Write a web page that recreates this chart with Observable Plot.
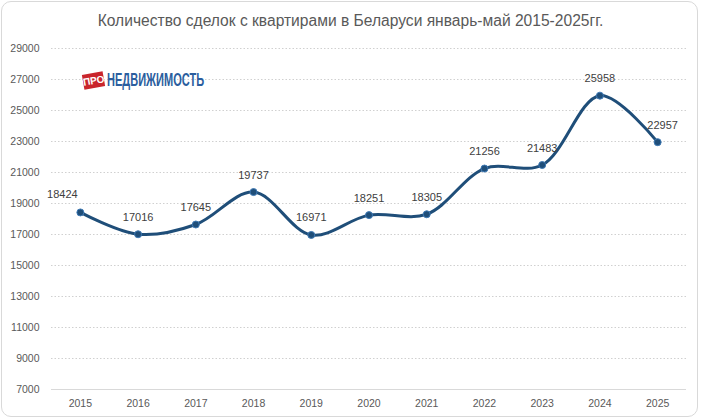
<!DOCTYPE html>
<html><head><meta charset="utf-8">
<script src="https://cdn.jsdelivr.net/npm/d3@7"></script>
<script src="https://cdn.jsdelivr.net/npm/@observablehq/plot@0.6"></script>
<style>
body{margin:0;background:#fff;}
#wrap{position:relative;width:701px;height:420px;overflow:hidden;font-family:"Liberation Sans",Arial,sans-serif;}
#frame{position:absolute;left:1px;top:1px;width:697px;height:416px;border:1px solid #d9d9d9;border-radius:10px;box-sizing:border-box;pointer-events:none;}
#title{position:absolute;left:0;width:701px;top:12px;text-align:center;font-size:15.6px;color:#595959;}
#logo{position:absolute;left:82px;top:70px;height:22px;}
#logo .pro{position:absolute;left:1px;top:3px;width:21px;height:15px;background:#c9252c;color:#fff;font:bold 10px "Liberation Sans",sans-serif;line-height:15px;text-align:center;transform:rotate(-10deg);}
#logo .nd{position:absolute;left:25px;top:0px;font:bold 17.5px "Liberation Sans",sans-serif;color:#2b5e9e;white-space:nowrap;transform:scaleX(0.63);transform-origin:left;}
#chart{position:absolute;left:0;top:0;}
</style></head>
<body>
<div id="wrap">
  <div id="chart"></div>
  <div id="title">Количество сделок с квартирами в Беларуси январь-май 2015-2025гг.</div>
  <div id="logo"><div class="pro">ПРО</div><div class="nd">НЕДВИЖИМОСТЬ</div></div>
  <div id="frame"></div>
</div>
<script>
const years = ["2015","2016","2017","2018","2019","2020","2021","2022","2023","2024","2025"];
const deals = [18424,17016,17645,19737,16971,18251,18305,21256,21483,25958,22957];
const yTicks = [7000,9000,11000,13000,15000,17000,19000,21000,23000,25000,27000,29000];

const data = years.map((y,i)=>({year:y, value:deals[i]}));
const n = data.length;

const chart = Plot.plot({
  width:701, height:420,
  marginTop:48, marginBottom:31, marginLeft:51, marginRight:15,
  style:{fontFamily:"Liberation Sans, Arial, sans-serif", fontSize:"10.5px", color:"#595959", background:"transparent"},
  x:{type:"point", domain:years, padding:0.5, round:false, label:null},
  y:{domain:[7000,29000], label:null},
  marks:[
    Plot.ruleY(yTicks.slice(1), {stroke:"#d0d0d0", strokeDasharray:"1.5,2"}),
    Plot.ruleY([7000], {stroke:"#d9d9d9"}),
    Plot.axisY({ticks:yTicks, tickSize:0, tickPadding:12, tickFormat:d=>String(d), fill:"#595959"}),
    Plot.axisX({tickSize:0, tickPadding:10, fill:"#595959"}),
    Plot.line(data, {x:"year", y:"value", curve:"catmull-rom", stroke:"#1f4e79", strokeWidth:3}),
    Plot.dot(data, {x:"year", y:"value", r:3.5, fill:"#1f4e79", stroke:"#3f7ab5", strokeWidth:1}),
    Plot.text(data.slice(1, n-1), {x:"year", y:"value", text:d=>String(d.value), dy:-17, fontSize:11, fill:"#404040"}),
    Plot.text(data.slice(0,1), {x:"year", y:"value", text:d=>String(d.value), dy:-18, dx:-18, fontSize:11, fill:"#404040"}),
    Plot.text(data.slice(n-1), {x:"year", y:"value", text:d=>String(d.value), dy:-17, dx:5, fontSize:11, fill:"#404040"})
  ]
});
document.getElementById("chart").appendChild(chart);
</script>
</body></html>
